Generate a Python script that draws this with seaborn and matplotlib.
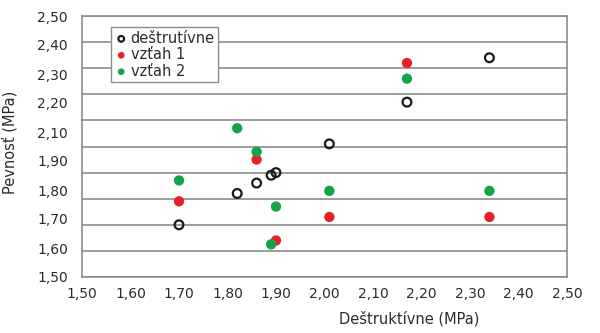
import matplotlib
matplotlib.use("Agg")
import matplotlib.pyplot as plt
import seaborn as sns
import numpy as np
import pandas as pd

# Data
x_destr = [1.70, 1.82, 1.86, 1.89, 1.90, 2.01, 2.17, 2.34]
y_destr = [1.70, 1.82, 1.86, 1.89, 1.90, 2.01, 2.17, 2.34]

x_v1 = [1.70, 1.86, 1.90, 2.01, 2.17, 2.34]
y_v1 = [1.79, 1.95, 1.64, 1.73, 2.32, 1.73]

x_v2 = [1.70, 1.82, 1.86, 1.89, 1.90, 2.01, 2.17, 2.34]
y_v2 = [1.87, 2.07, 1.98, 1.625, 1.77, 1.83, 2.26, 1.83]

series_names = ["deštrutívne", "vzťah 1", "vzťah 2"]
x_ticks = [1.50, 1.60, 1.70, 1.80, 1.90, 2.00, 2.10, 2.20, 2.30, 2.40, 2.50]
x_tick_labels = ["1,50", "1,60", "1,70", "1,80", "1,90", "2,00", "2,10", "2,20", "2,30", "2,40", "2,50"]
y_grid = [1.50, 1.60, 1.70, 1.80, 1.90, 2.00, 2.10, 2.20, 2.30, 2.40, 2.50]
y_tick_labels = ["1,50", "1,60", "1,70", "1,80", "1,90", "2,10", "2,20", "2,30", "2,40", "2,50"]

sns.set_style("white")
plt.rcParams['font.family'] = ['DejaVu Sans']

fig = plt.figure(figsize=(6, 3.33), dpi=100)
ax = fig.add_axes([82/600, 1-277/333, (567-82)/600, (277-16)/333])

red = "#e42229"
green = "#16a249"
gray = "#8c8c8c"
txt = "#2b2b2b"

sns.scatterplot(x=x_v1, y=y_v1, ax=ax, color=red, s=55, edgecolor="none", label=series_names[1], zorder=3)
sns.scatterplot(x=x_v2, y=y_v2, ax=ax, color=green, s=55, edgecolor="none", label=series_names[2], zorder=4)
sns.scatterplot(x=x_destr, y=y_destr, ax=ax, facecolor="none", edgecolor="#1a1a1a", linewidth=1.6, s=40, label=series_names[0], zorder=5)

ax.set_xlim(1.5, 2.5)
ax.set_ylim(1.5, 2.5)
ax.set_xticks(x_ticks)
ax.set_xticklabels(x_tick_labels)
ax.set_yticks(y_grid)
ax.set_yticklabels([""] * len(y_grid))
ax.yaxis.remove_overlapping_locs = False
ax.set_yticks(list(np.linspace(1.5, 2.5, len(y_tick_labels))), y_tick_labels, minor=True)
ax.tick_params(axis="y", which="minor", length=0, pad=10, labelsize=10, labelcolor=txt)
ax.tick_params(axis="y", which="major", length=5, width=1.2, color=gray, pad=2)
ax.tick_params(axis="x", length=4, width=1.2, color=gray, labelsize=10, labelcolor=txt, pad=3)

ax.grid(axis="y", which="major", color=gray, linewidth=1.2)
ax.grid(axis="x", visible=False)
ax.set_axisbelow(True)
for side in ["left", "bottom", "right", "top"]:
    ax.spines[side].set_visible(True)
    ax.spines[side].set_color(gray)
    ax.spines[side].set_linewidth(1.2)

ax.set_xlabel("Deštruktívne (MPa)", fontsize=10.5, color=txt)
ax.xaxis.set_label_coords(0.674, -0.13)
ax.set_ylabel("Pevnosť (MPa)", fontsize=10.5, color=txt)
ax.yaxis.set_label_coords(-0.132, 0.517)

handles, labels = ax.get_legend_handles_labels()
order = [labels.index(n) for n in series_names]
leg = ax.legend([handles[i] for i in order], [labels[i] for i in order],
                loc="upper left", bbox_to_anchor=(111/600, 1-27/333), bbox_transform=fig.transFigure,
                borderaxespad=0,
                frameon=True, fancybox=False, framealpha=1, edgecolor=gray, fontsize=10.5,
                handletextpad=0.2, handlelength=0.9, borderpad=0.25, labelspacing=0.1, markerscale=0.65)
leg.get_frame().set_linewidth(1.0)
for t in leg.get_texts():
    t.set_color(txt)

fig.savefig("out.png", dpi=100)
